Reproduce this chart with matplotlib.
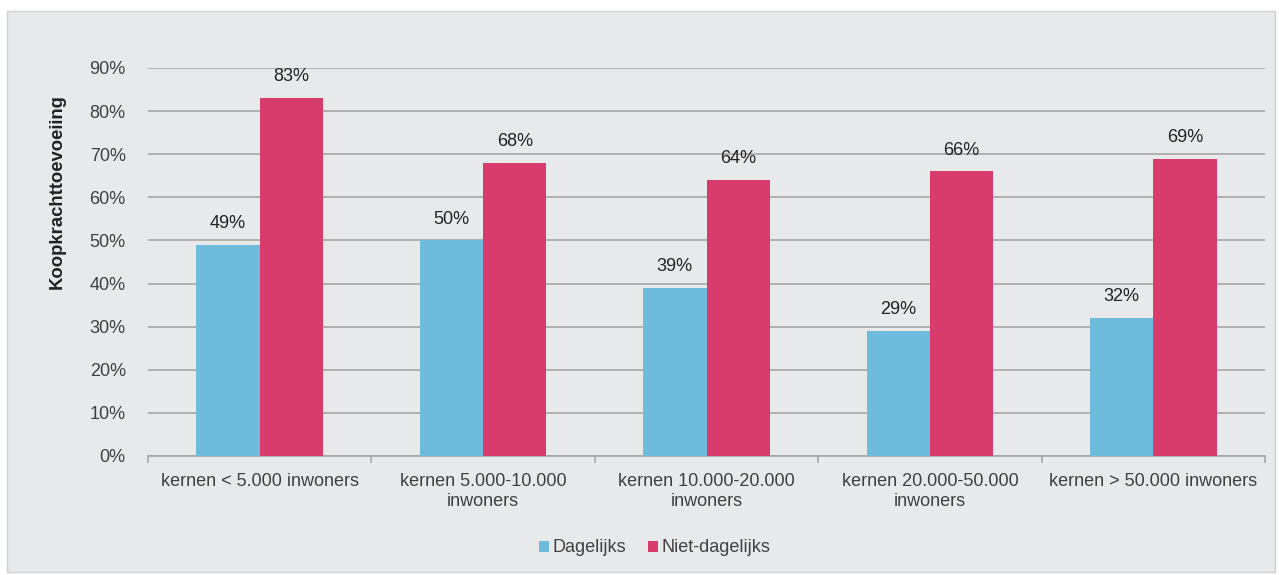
import matplotlib.pyplot as plt
from matplotlib.patches import Rectangle
from matplotlib.ticker import FuncFormatter
import numpy as np

plt.rcParams['font.family'] = ['Liberation Sans', 'DejaVu Sans']

categories = ['kernen < 5.000 inwoners', 'kernen 5.000-10.000\ninwoners',
              'kernen 10.000-20.000\ninwoners', 'kernen 20.000-50.000\ninwoners',
              'kernen > 50.000 inwoners']
dagelijks = [49, 50, 39, 29, 32]
niet_dagelijks = [83, 68, 64, 66, 69]
series_names = ['Dagelijks', 'Niet-dagelijks']

blue = '#6fbbdb'
red = '#d83c6c'
bg = '#e8e9eb'
txt = '#404040'

fig = plt.figure(figsize=(12.79, 5.75), dpi=100)
fig.patch.set_facecolor('white')
# grey panel behind the chart
fig.patches.append(Rectangle((7 / 1279, 3 / 575), 1268 / 1279, 561 / 575,
                             transform=fig.transFigure, facecolor=bg,
                             edgecolor='#d0d0d0', lw=1, zorder=-5))

ax = fig.add_axes([148 / 1279, 1 - 456 / 575, 1117 / 1279, 388 / 575])
ax.set_facecolor(bg)

x = np.arange(len(categories))
w = 0.283
b1 = ax.bar(x - w / 2, dagelijks, w, color=blue, label=series_names[0], zorder=3)
b2 = ax.bar(x + w / 2, niet_dagelijks, w, color=red, label=series_names[1], zorder=3)

for bars, vals in ((b1, dagelijks), (b2, niet_dagelijks)):
    for rect, v in zip(bars, vals):
        ax.text(rect.get_x() + rect.get_width() / 2, v + 3, f'{v}%',
                ha='center', va='bottom', fontsize=13, color='#222222')

ax.set_xlim(-0.5, len(categories) - 0.5)
ax.set_ylim(0, 90)
ax.set_yticks(np.arange(0, 91, 10))
ax.yaxis.set_major_formatter(FuncFormatter(lambda v, p: f'{int(v)}%'))
ax.yaxis.grid(True, color='#a6a6a6', lw=1.2, zorder=0)
ax.tick_params(axis='y', length=0, pad=16, labelsize=13, labelcolor=txt)

ax.set_xticks(x)
ax.set_xticklabels(categories, fontsize=13, color=txt, linespacing=1.25)
ax.set_xticks(np.arange(-0.5, len(categories)), minor=True)
ax.tick_params(axis='x', which='major', length=0, pad=12)
ax.tick_params(axis='x', which='minor', length=5, color='#a6a6a6', width=1.2)

for s in ['top', 'right', 'left']:
    ax.spines[s].set_visible(False)
ax.spines['bottom'].set_color('#a6a6a6')
ax.spines['bottom'].set_linewidth(1.2)

fig.text(57 / 1279, 1 - 192 / 575, 'Koopkrachttoevoeiing', rotation=90,
         ha='center', va='center', fontsize=13.3, fontweight='bold', color='#222222')

ax.legend(loc='center', bbox_to_anchor=(655 / 1279, 1 - 548 / 575),
          bbox_transform=fig.transFigure, ncol=2, frameon=False,
          fontsize=13, handlelength=0.55, handleheight=0.55, handletextpad=0.2,
          columnspacing=1.2, labelcolor=txt)

fig.savefig('out.png', dpi=100, facecolor='white')
